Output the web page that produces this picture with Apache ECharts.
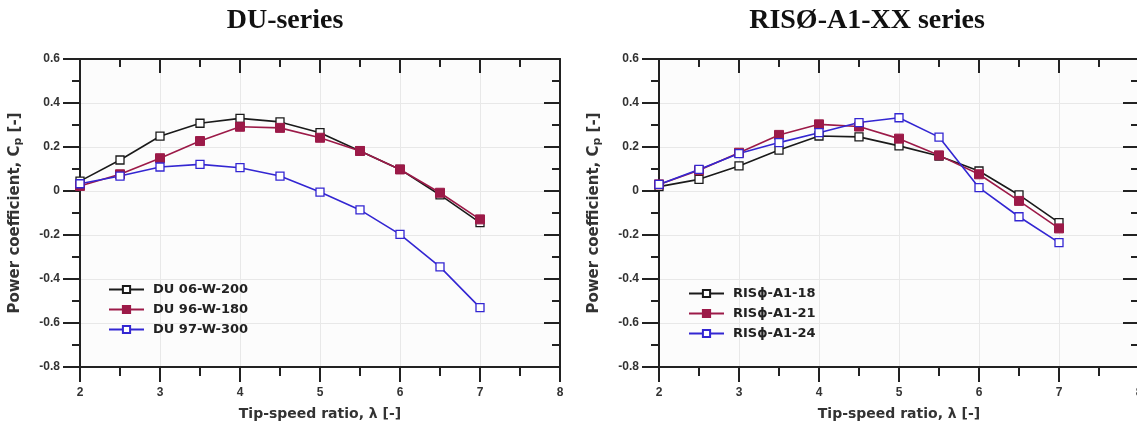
<!DOCTYPE html>
<html>
<head>
<meta charset="utf-8">
<script src="https://cdn.jsdelivr.net/npm/echarts@6/dist/echarts.min.js"></script>
<style>
  html, body { margin: 0; padding: 0; background: #ffffff; }
  #chart { width: 1137px; height: 428px; }
</style>
</head>
<body>
<div id="chart"></div>
<script>
// Tip-speed ratio samples shared by all curves
const tsr = [2, 2.5, 3, 3.5, 4, 4.5, 5, 5.5, 6, 6.5, 7];

// Power coefficient, DU-series airfoils
const du06w200 = [0.045, 0.141, 0.249, 0.308, 0.330, 0.314, 0.265, 0.182, 0.098, -0.018, -0.144];
const du96w180 = [0.023, 0.076, 0.149, 0.227, 0.292, 0.287, 0.242, 0.182, 0.098, -0.008, -0.129];
const du97w300 = [0.033, 0.068, 0.109, 0.121, 0.106, 0.068, -0.005, -0.086, -0.197, -0.345, -0.530];

// Power coefficient, RISØ-A1 airfoils
const risA118 = [0.020, 0.053, 0.114, 0.186, 0.250, 0.246, 0.205, 0.159, 0.091, -0.018, -0.144];
const risA121 = [0.030, 0.094, 0.174, 0.255, 0.303, 0.293, 0.238, 0.162, 0.076, -0.045, -0.170];
const risA124 = [0.030, 0.098, 0.170, 0.220, 0.265, 0.311, 0.333, 0.245, 0.015, -0.117, -0.235];

const panelTitles = ['DU-series', 'RISØ-A1-XX series'];
const seriesNames = [
  ['DU 06-W-200', 'DU 96-W-180', 'DU 97-W-300'],
  ['RISϕ-A1-18', 'RISϕ-A1-21', 'RISϕ-A1-24']
];
const seriesValues = [
  [du06w200, du96w180, du97w300],
  [risA118, risA121, risA124]
];

const xName = 'Tip-speed ratio, λ [-]';
const yName = 'Power coefficient, C{sub|p} [-]';

const BLACK = '#1a1a1a';
const RED = '#9c1a48';
const BLUE = '#3326d2';
const lineColors = [BLACK, RED, BLUE];
const filled = [false, true, false];

const panels = [
  { grid: { left: 80, width: 480 }, legendLeft: 108, legendTop: 283, titleX: 285 },
  { grid: { left: 659, width: 480 }, legendLeft: 688, legendTop: 287, titleX: 867 }
];

const AXIS_COLOR = '#222';
const SANS = 'Liberation Sans, Arial, sans-serif';
const WIDE_SANS = 'DejaVu Sans, Verdana, sans-serif';
const labelStyle = { color: '#333', fontFamily: SANS, fontWeight: 'bold', fontSize: 12 };

const grids = [], xAxes = [], yAxes = [], series = [], legends = [], titles = [];

panels.forEach((p, gi) => {
  grids.push(Object.assign({
    top: 59, height: 308, backgroundColor: '#fcfcfc', show: true, borderWidth: 0,
    containLabel: false, outerBoundsMode: 'none'
  }, p.grid));

  // bottom axis with labels
  xAxes.push({
    gridIndex: gi, type: 'value', position: 'bottom', min: 2, max: 8, interval: 1,
    name: xName, nameLocation: 'middle', nameGap: 40,
    nameTextStyle: { color: '#333', fontFamily: WIDE_SANS, fontWeight: 'bold', fontSize: 14 },
    axisLine: { show: true, onZero: false, lineStyle: { color: AXIS_COLOR, width: 2 } },
    axisTick: { show: true, inside: false, length: 15, lineStyle: { color: AXIS_COLOR, width: 2 } },
    minorTick: { show: true, splitNumber: 2, length: 9, lineStyle: { color: AXIS_COLOR, width: 2 } },
    axisLabel: Object.assign({ margin: 20 }, labelStyle),
    splitLine: { show: true, lineStyle: { color: '#e8e8e8', width: 1 } }
  });
  // mirrored top axis, ticks pointing into the plot
  xAxes.push({
    gridIndex: gi, type: 'value', position: 'top', min: 2, max: 8, interval: 1,
    axisLine: { show: true, onZero: false, lineStyle: { color: AXIS_COLOR, width: 2 } },
    axisTick: { show: true, inside: true, length: 14, lineStyle: { color: AXIS_COLOR, width: 2 } },
    minorTick: { show: true, splitNumber: 2, length: 8, lineStyle: { color: AXIS_COLOR, width: 2 } },
    axisLabel: { show: false },
    splitLine: { show: false }
  });
  // left axis with labels
  yAxes.push({
    gridIndex: gi, type: 'value', position: 'left', min: -0.8, max: 0.6, interval: 0.2,
    name: yName, nameLocation: 'middle', nameGap: 56,
    nameTextStyle: {
      color: '#333', fontFamily: WIDE_SANS, fontWeight: 'bold', fontSize: 15,
      rich: { sub: { fontFamily: WIDE_SANS, fontWeight: 'bold', fontSize: 11, color: '#333', verticalAlign: 'bottom', padding: [7, 0, 0, 0] } }
    },
    axisLine: { show: true, onZero: false, lineStyle: { color: AXIS_COLOR, width: 2 } },
    axisTick: { show: true, inside: false, length: 17, lineStyle: { color: AXIS_COLOR, width: 2 } },
    minorTick: { show: true, splitNumber: 2, length: 8, lineStyle: { color: AXIS_COLOR, width: 2 } },
    axisLabel: Object.assign({ margin: 20, formatter: v => (Math.abs(v) < 1e-9 ? '0' : String(+v.toFixed(1))) }, labelStyle),
    splitLine: { show: true, lineStyle: { color: '#e8e8e8', width: 1 } }
  });
  // mirrored right axis
  yAxes.push({
    gridIndex: gi, type: 'value', position: 'right', min: -0.8, max: 0.6, interval: 0.2,
    axisLine: { show: true, onZero: false, lineStyle: { color: AXIS_COLOR, width: 2 } },
    axisTick: { show: true, inside: true, length: 16, lineStyle: { color: AXIS_COLOR, width: 2 } },
    minorTick: { show: true, splitNumber: 2, length: 8, lineStyle: { color: AXIS_COLOR, width: 2 } },
    axisLabel: { show: false },
    splitLine: { show: false }
  });

  seriesNames[gi].forEach((name, si) => {
    const c = lineColors[si];
    series.push({
      name: name, type: 'line',
      xAxisIndex: gi * 2, yAxisIndex: gi * 2,
      data: tsr.map((x, k) => [x, seriesValues[gi][si][k]]),
      symbol: 'rect',
      symbolSize: filled[si] ? 9 : 8,
      lineStyle: { color: c, width: 1.6 },
      itemStyle: filled[si] ? { color: c, borderColor: c, borderWidth: 1 } : { color: '#ffffff', borderColor: c, borderWidth: 1.3 },
      emphasis: { disabled: true },
      animation: false
    });
  });

  legends.push({
    data: seriesNames[gi],
    orient: 'vertical',
    left: p.legendLeft, top: p.legendTop, padding: 0,
    itemWidth: 35, itemHeight: 9, itemGap: 7,
    textStyle: { color: '#222', fontFamily: WIDE_SANS, fontWeight: 'bold', fontSize: 13, padding: [0, 0, 0, 4] },
    selectedMode: false
  });

  titles.push({
    text: panelTitles[gi], left: p.titleX, top: 7, textAlign: 'center', padding: 0,
    textStyle: { color: '#111', fontFamily: 'Liberation Serif, Times New Roman, serif', fontWeight: 'bold', fontSize: 28 }
  });
});

const chart = echarts.init(document.getElementById('chart'), null, { renderer: 'canvas' });
chart.setOption({
  backgroundColor: '#ffffff',
  animation: false,
  title: titles,
  grid: grids,
  xAxis: xAxes,
  yAxis: yAxes,
  legend: legends,
  series: series
});
</script>
</body>
</html>
